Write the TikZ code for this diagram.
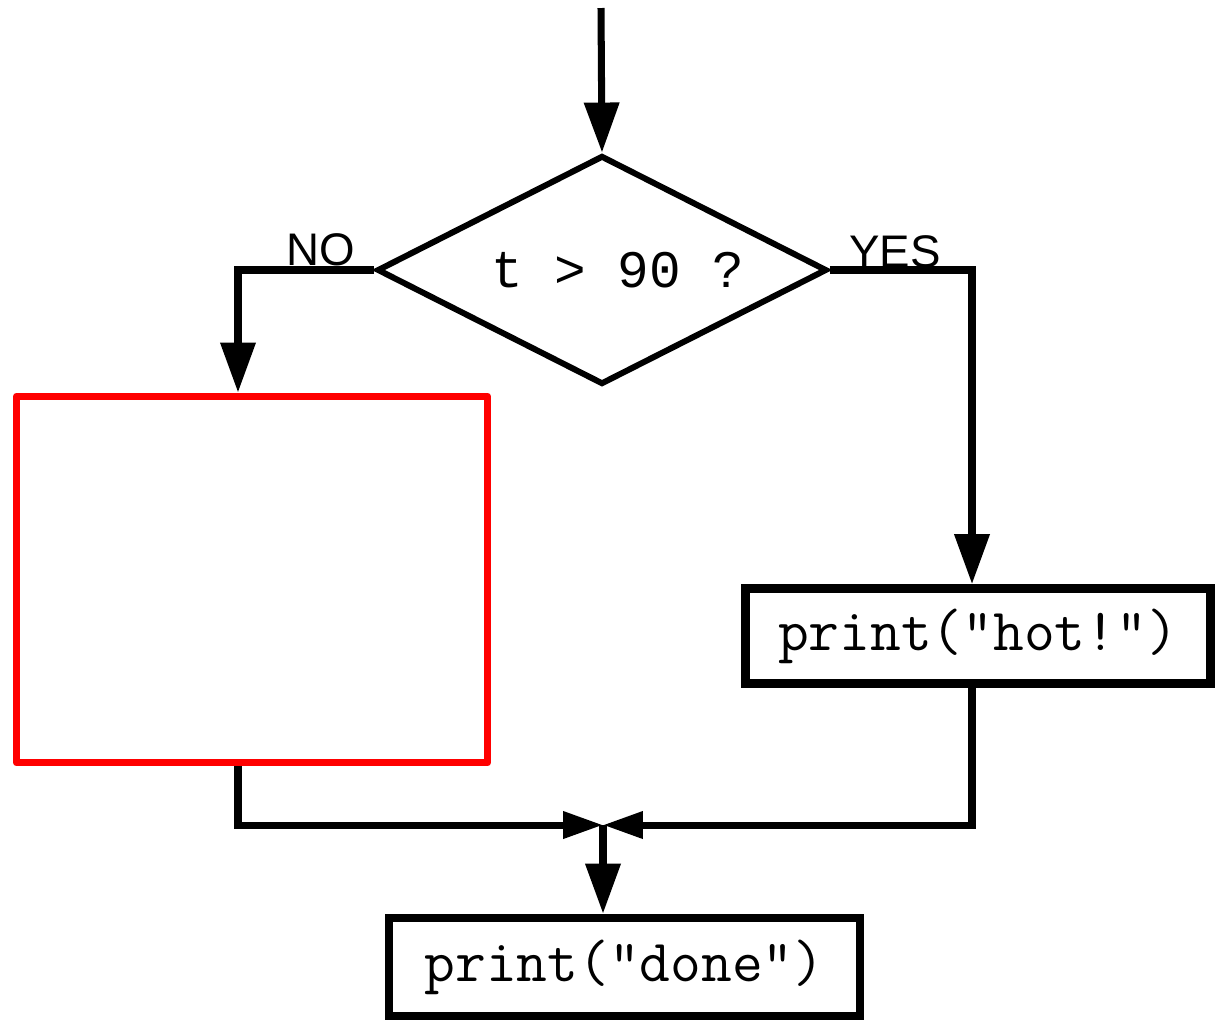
\documentclass[tikz,border=0pt]{standalone}
\usepackage{fontspec}
\setmainfont{Liberation Sans}
\newfontfamily\diafont{Liberation Mono}
\usetikzlibrary{arrows.meta, shapes.geometric}
\tikzset{>={Triangle[length=1cm, width=0.68cm]}}
\tikzset{
    cond/.style={diamond, draw, line width=3.4pt, aspect=2, inner sep=0pt,
        minimum width=9cm, minimum height=4.58cm, font=\fontsize{30}{30}\diafont},
    stmt/.style={rectangle, draw, line width=5pt, inner sep=0pt,
        font=\fontsize{34}{34}\ttfamily},
    flow/.style={line width=4pt},
    merge/.style={line width=4pt, -{Triangle[length=0.8cm, width=0.52cm]}},
    lbl/.style={font=\fontsize{26}{26}\selectfont, inner sep=0pt, anchor=base}
}

\begin{document}
\begin{tikzpicture}[x=0.02cm, y=-0.02cm]
    \useasboundingbox(0, 0) rectangle (1224, 1019);
    \node[cond](test) at (602, 270){\phantom{x}t > 90 ?};
    \node[rectangle, draw=red, line width=4pt, line join=round, minimum width=9.42cm, minimum height=7.34cm](red) at (252, 579.5){};
    \node[stmt, minimum width=9.3cm, minimum height=1.9cm](hot) at (978, 636){print("hot!")};
    \node[stmt, minimum width=9.42cm, minimum height=1.96cm](done) at (624.5, 967){print("done")};
    \coordinate(start) at (601, 8);
    \coordinate(nocorner) at (238, 270);
    \coordinate(yescorner) at (972, 270);
    \coordinate(meet) at (603, 825);
    \node[lbl](no) at (321, 265){NO};
    \node[lbl](yes) at (895, 267){YES};
    \draw[flow, ->](start)--(test.north);
    \draw[flow, ->](test.west)--(nocorner)--(nocorner |- red.north);
    \draw[flow, ->](test.east)--(yescorner)--(yescorner |- hot.north);
    \draw[merge](nocorner |- red.south)--(nocorner |- meet)--(meet);
    \draw[merge](yescorner |- hot.south)--(yescorner |- meet)--(meet);
    \draw[flow, ->](meet)--(meet |- done.north);
\end{tikzpicture}
\end{document}
